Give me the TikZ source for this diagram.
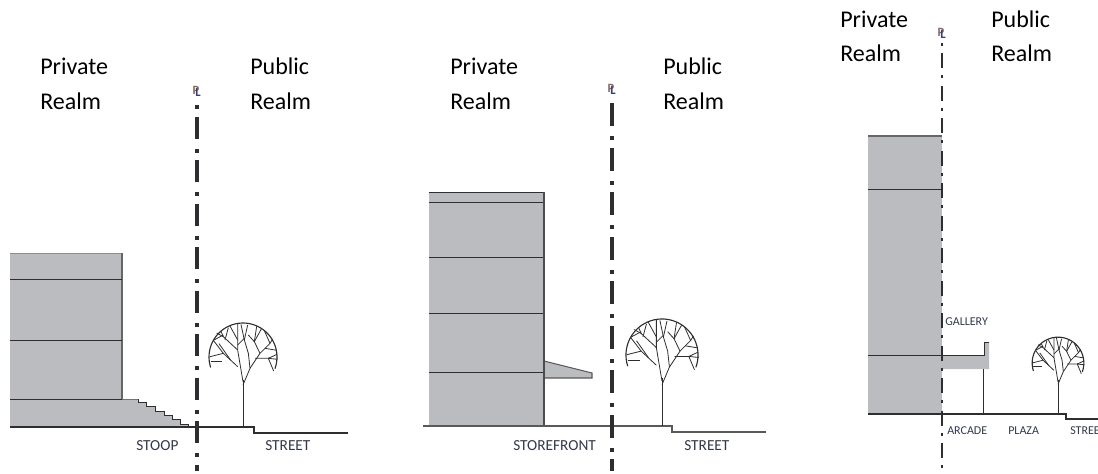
\documentclass[tikz,border=0pt]{standalone}
\usepackage{fontspec}
\setmainfont{Carlito}
\definecolor{bldg}{HTML}{BBBCBF}
\definecolor{ink}{HTML}{2E2E30}
\definecolor{lab}{HTML}{30384A}
\definecolor{plp}{HTML}{8A6A5A}
\definecolor{pll}{HTML}{34407A}
\tikzset{
  realm/.style={anchor=base west,inner sep=0pt,font=\fontsize{18pt}{20pt}\selectfont,text=black},
  lbl/.style={anchor=base west,inner sep=0pt,font=\fontsize{11.5pt}{12pt}\selectfont,text=lab},
  lblsmall/.style={anchor=base west,inner sep=0pt,font=\fontsize{9pt}{10pt}\selectfont,text=lab},
  floorline/.style={draw=ink,line width=.65pt},
  ground/.style={draw=ink,line width=1.2pt},
  wall/.style={draw=black!60,line width=.9pt},
  mass/.style={fill=bldg,draw=none},
  plline/.style={draw=ink,line width=2.3pt},
  plmark/.style={inner sep=0pt,font=\fontsize{9.5pt}{10pt}\bfseries\selectfont},
  treeline/.style={draw=ink,line width=.6pt},
}
\newcommand{\treecrown}[3]{%
  \begin{scope}[shift={(#1,#2)},x=.25pt,y=-.25pt,scale=#3]
    \draw[treeline,line width=.85pt] plot[domain=198:-20,samples=40,smooth] ({102*cos(\x)},{-102*sin(\x)});
    \draw[treeline] (0,74) -- (-16,-21) -- (-16,-99);
    \draw[treeline] (0,84) -- (21,34) -- (16,-11) -- (4,-51) -- (14,-96);
    \draw[treeline] (-16,-36) -- (4,-56);
    \draw[treeline] (-16,-21) -- (-59,-61) -- (-79,-72);
    \draw[treeline] (-16,29) -- (-59,-11) -- (-89,-50);
    \draw[treeline] (-59,-11) -- (-99,-1);
    \draw[treeline] (-97,14) -- (-62,14);
    \draw[treeline] (-89,-50) -- (-59,-66);
    \draw[treeline] (-54,-51) -- (-44,-88);
    \draw[treeline] (-16,-51) -- (-39,-93);
    \draw[treeline] (-59,-61) -- (-66,-77);
    \draw[treeline] (-38,8) -- (-72,-40);
    \draw[treeline] (21,34) -- (51,-11) -- (81,-41) -- (64,-79);
    \draw[treeline] (51,-11) -- (34,-46) -- (41,-92);
    \draw[treeline] (34,-46) -- (16,-66);
    \draw[treeline] (66,-26) -- (102,-20);
    \draw[treeline] (36,4) -- (76,4) -- (104,7);
    \draw[treeline] (76,4) -- (92,42);
    \draw[treeline] (81,-41) -- (89,-54);
    \draw[treeline] (34,-46) -- (55,-84);
    \draw[treeline] (76,4) -- (102,-8);
    \draw[treeline] (4,-51) -- (-6,-98);
  \end{scope}}
\newcommand{\plsign}[2]{%
  \node[plmark,text=plp] at (#1-1,#2) {P};
  \node[plmark,text=pll] at (#1+1,#2+2) {L};}
\begin{document}
\begin{tikzpicture}[x=.75pt,y=-.75pt]
\useasboundingbox (0,0) rectangle (1098,474);
% Panel 1
\fill[mass] (10,253) -- (122,253) -- (122,399) -- (138,399) -- (138,402) -- (146,402) -- (146,406) -- (155,406) -- (155,411) -- (164,411) -- (164,415) -- (172,415) -- (172,419) -- (180,419) -- (180,424) -- (188,424) -- (188,427) -- (10,427) -- cycle;
\draw[draw=black!45,line width=.6pt] (10,253) -- (122,253);
\draw[wall] (122,253) -- (122,399);
\draw[floorline] (10,279) -- (122,279);
\draw[floorline] (10,340) -- (122,340);
\draw[floorline] (10,399) -- (122,399);
\draw[draw=black!55,line width=.7pt] (122,399) -- (138,399);
\draw[draw=ink,line width=.7pt] (138,399) -- (138,402) -- (146,402) -- (146,406) -- (155,406) -- (155,411) -- (164,411) -- (164,415) -- (172,415) -- (172,419) -- (180,419) -- (180,424) -- (188,424) -- (188,427);
\draw[ground] (10,427) -- (254,427) -- (254,433) -- (348,433);
\draw[treeline,line width=.7pt] (243,427) -- (243,380);
\treecrown{243}{357}{1}
\draw[plline,dash pattern=on 16.5pt off 7.5pt on 3pt off 5.6pt,dash phase=24pt] (197,105.5) -- (197,471);
\plsign{197}{90}
\node[realm] (priv1) at (40,75) {Private};
\node[realm] (real1) at (40,110) {Realm};
\node[realm] (pub1) at (250,75) {Public};
\node[realm] (real1b) at (250,110) {Realm};
\node[lbl] (stoop) at (136,450) {STOOP};
\node[lbl] (street1) at (265,450) {STREET};
% Panel 2
\fill[mass] (429,192) rectangle (544,426);
\draw[draw=ink,line width=.7pt] (429,192) -- (544,192);
\draw[floorline] (429,202) -- (544,202);
\draw[floorline] (429,257) -- (544,257);
\draw[floorline] (429,313) -- (544,313);
\draw[floorline] (429,372) -- (544,372);
\draw[fill=bldg,draw=black!65,line width=.8pt] (544,361) -- (592,373) -- (592,378) -- (544,378) -- cycle;
\draw[draw=black!70,line width=1pt] (544,192) -- (544,426);
\draw[draw=black!65,line width=1.1pt] (423,426) -- (672,426) -- (672,432) -- (766,432);
\draw[treeline,line width=.7pt] (662,426) -- (662,378);
\treecrown{662}{355}{1.06}
\draw[plline,dash pattern=on 17.25pt off 7.5pt on 3pt off 5.6pt] (612,103.5) -- (612,471);
\plsign{612}{88}
\node[realm] (priv2) at (450,75) {Private};
\node[realm] (real2) at (450,110) {Realm};
\node[realm] (pub2) at (663,75) {Public};
\node[realm] (real2b) at (663,110) {Realm};
\node[lbl] (storefront) at (513,450) {STOREFRONT};
\node[lbl] (street2) at (684,450) {STREET};
% Panel 3
\fill[mass] (868,136) rectangle (942,414);
\draw[draw=black!60,line width=.8pt] (868,136) -- (942,136);
\draw[floorline] (868,189) -- (942,189);
\fill[mass] (942,355) -- (984,355) -- (984,342) -- (989,342) -- (989,369) -- (942,369) -- cycle;
\draw[floorline] (868,355) -- (984,355) -- (984,342) -- (989,342);
\draw[draw=ink,line width=.7pt] (983,369) -- (983,414);
\draw[ground] (868,414) -- (1066,414) -- (1066,419) -- (1098,419);
\draw[treeline,line width=.7pt] (1058,414) -- (1058,380);
\treecrown{1058}{363}{.76}
\draw[draw=ink,line width=1.4pt,dash pattern=on 2.25pt off 5.6pt on 11.25pt off 5.25pt] (942,43) -- (942,471);
\plsign{942}{32}
\node[realm] (priv3) at (840,28) {Private};
\node[realm] (real3) at (840,62) {Realm};
\node[realm] (pub3) at (991,28) {Public};
\node[realm] (real3b) at (991,62) {Realm};
\node[lblsmall] (gallery) at (945,325) {GALLERY};
\node[lblsmall] (arcade) at (947,434) {ARCADE};
\node[lblsmall] (plaza) at (1008,434) {PLAZA};
\node[lblsmall] (street3) at (1070,434) {STREE};
\end{tikzpicture}
\end{document}
